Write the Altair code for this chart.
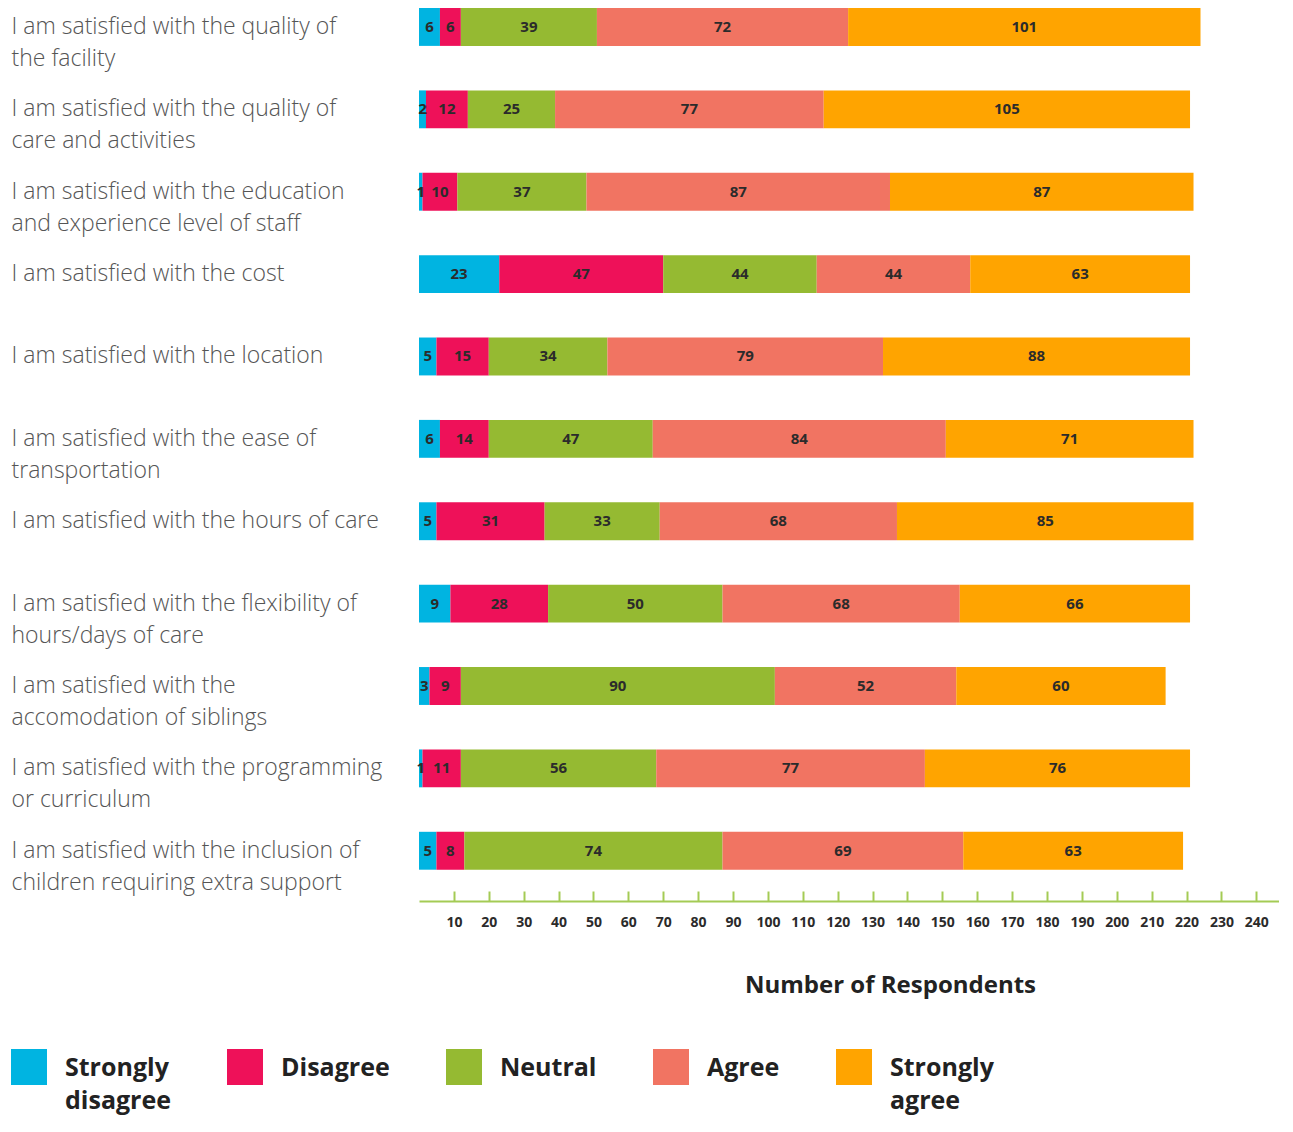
import altair as alt
import pandas as pd

questions = [
    "I am satisfied with the quality of|the facility",
    "I am satisfied with the quality of|care and activities",
    "I am satisfied with the education|and experience level of staff",
    "I am satisfied with the cost",
    "I am satisfied with the location",
    "I am satisfied with the ease of|transportation",
    "I am satisfied with the hours of care",
    "I am satisfied with the flexibility of|hours/days of care",
    "I am satisfied with the|accomodation of siblings",
    "I am satisfied with the programming|or curriculum",
    "I am satisfied with the inclusion of|children requiring extra support",
]
categories = ["Strongly disagree", "Disagree", "Neutral", "Agree", "Strongly agree"]
strongly_disagree = [6, 2, 1, 23, 5, 6, 5, 9, 3, 1, 5]
disagree = [6, 12, 10, 47, 15, 14, 31, 28, 9, 11, 8]
neutral = [39, 25, 37, 44, 34, 47, 33, 50, 90, 56, 74]
agree = [72, 77, 87, 44, 79, 84, 68, 68, 52, 77, 69]
strongly_agree = [101, 105, 87, 63, 88, 71, 85, 66, 60, 76, 63]
colors = ["#00B4E1", "#EE1159", "#95BA32", "#F17462", "#FFA400"]
x_ticks = list(range(10, 250, 10))

series = [strongly_disagree, disagree, neutral, agree, strongly_agree]
rows = []
for ci, (cat, vals) in enumerate(zip(categories, series)):
    for q, v in zip(questions, vals):
        rows.append({"question": q, "category": cat, "value": v, "order": ci})
df = pd.DataFrame(rows)

base = alt.Chart(df).transform_stack(
    stack="value",
    groupby=["question"],
    as_=["x0", "x1"],
    sort=[alt.SortField("order", order="ascending")],
).transform_calculate(mid="(datum.x0 + datum.x1) / 2")

y_enc = alt.Y(
    "question:N",
    sort=questions,
    title=None,
    scale=alt.Scale(paddingInner=0.54, paddingOuter=0.19, align=0),
    axis=alt.Axis(
        labelExpr="split(datum.label, '|')",
        labelAlign="left",
        labelBaseline="top",
        labelOffset=-11,
        labelPadding=408,
        labelFont="Open Sans",
        labelFontWeight=300,
        labelFontSize=23,
        labelColor="#555555",
        labelLineHeight=32,
        labelLimit=420,
        labelOverlap=False,
        ticks=False,
        domain=False,
        grid=False,
    ),
)

bars = base.mark_bar(strokeWidth=0).encode(
    x=alt.X(
        "x0:Q",
        title="Number of Respondents",
        scale=alt.Scale(domain=[0, 246.5], nice=False, zero=False),
        axis=alt.Axis(
            values=x_ticks,
            tickCount=40,
            grid=False,
            domainColor="#A4CB55",
            domainWidth=2,
            tickColor="#A4CB55",
            tickWidth=2,
            tickSize={"expr": "-10"},
            labelPadding=24,
            labelFont="Open Sans",
            labelFontWeight="bold",
            labelFontSize=14,
            labelColor="#2b2b2b",
            labelOverlap=False,
            titleFont="Open Sans",
            titleFontWeight="bold",
            titleFontSize=24,
            titleColor="#222222",
            titlePadding=44,
            titleX=471,
        ),
    ),
    x2="x1:Q",
    y=y_enc,
    color=alt.Color(
        "category:N",
        scale=alt.Scale(domain=categories, range=colors),
        legend=alt.Legend(
            orient="none",
            legendX=-408,
            legendY=1030,
            direction="horizontal",
            columns=5,
            title=None,
            symbolType="M-1,-0.39H1V1.61H-1Z",
            symbolSize=1296,
            symbolStrokeWidth=0,
            symbolOpacity=1,
            labelExpr="indexof(datum.label, ' ') > 0 ? split(datum.label, ' ') : [datum.label, ' ']",
            labelFont="Open Sans",
            labelFontSize=25,
            labelFontWeight="bold",
            labelColor="#222222",
            labelBaseline="top",
            labelOffset=18,
            labelLimit=300,
            columnPadding=56,
            padding=0,
        ),
    ),
)

labels = base.mark_text(
    font="Open Sans", fontWeight="bold", fontSize=15, color="#2b2b2b"
).encode(
    x=alt.X("mid:Q"),
    y=alt.Y("question:N", sort=questions),
    text=alt.Text("value:Q"),
)

chart = (
    alt.layer(bars, labels)
    .properties(width=860, height=893, padding={"left": 3, "top": 0, "right": 0, "bottom": 6})
    .configure(style={"guide-label": {"lineHeight": 33}})
    .configure_view(stroke=None)
)

chart.save("out.html", embed_options={"renderer": "svg", "actions": False})
